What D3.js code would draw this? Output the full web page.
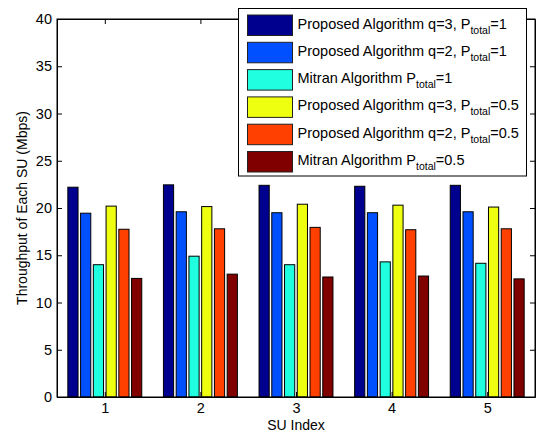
<!DOCTYPE html>
<html>
<head>
<meta charset="utf-8">
<script src="https://cdn.jsdelivr.net/npm/d3@7"></script>
<style>
  body { margin: 0; background: #fff; }
  svg { font-family: "Liberation Sans", Arial, sans-serif; }
</style>
</head>
<body>
<div id="chart"></div>
<script>
// SU index on the x axis
var suIndex = [1, 2, 3, 4, 5];

// series values (Mbps)
var propQ3P1   = [22.2, 22.45, 22.4, 22.3, 22.4];
var propQ2P1   = [19.45, 19.6, 19.5, 19.5, 19.6];
var mitranP1   = [14.0, 14.9, 14.0, 14.3, 14.15];
var propQ3P05  = [20.2, 20.15, 20.4, 20.3, 20.1];
var propQ2P05  = [17.75, 17.8, 17.95, 17.7, 17.8];
var mitranP05  = [12.55, 13.0, 12.7, 12.8, 12.5];

// legend labels: main text, subscript, trailing text
var seriesLabels = [
    ["Proposed Algorithm q=3, P", "total", "=1"],
    ["Proposed Algorithm q=2, P", "total", "=1"],
    ["Mitran Algorithm P", "total", "=1"],
    ["Proposed Algorithm q=3, P", "total", "=0.5"],
    ["Proposed Algorithm q=2, P", "total", "=0.5"],
    ["Mitran Algorithm P", "total", "=0.5"]
];
var seriesColors = ["#00008f", "#0050ff", "#20ffdf", "#efff10", "#ff4000", "#800000"];
var yTicks = [0, 5, 10, 15, 20, 25, 30, 35, 40];

var allSeries = [propQ3P1, propQ2P1, mitranP1, propQ3P05, propQ2P05, mitranP05];

var margin = { left: 57, right: 9, top: 19, bottom: 39 };
var W = 544, H = 436;
var width = W - margin.left - margin.right;
var height = H - margin.top - margin.bottom;

var svg = d3.select("#chart")
    .append("svg")
    .attr("width", W)
    .attr("height", H);

var g = svg.append("g")
    .attr("transform", "translate(" + margin.left + "," + margin.top + ")");

// x: linear like matlab, domain 0.5..5.5
var x = d3.scaleLinear()
    .domain([0.5, 5.5])
    .range([0, width]);

var y = d3.scaleLinear()
    .domain([0, 40])
    .range([height, 0]);

// group width = 0.8 of unit spacing
var groupW = x(1.8) - x(1);
var x1 = d3.scaleBand()
    .domain(d3.range(allSeries.length))
    .range([-groupW / 2, groupW / 2])
    .paddingInner(0.2)
    .paddingOuter(0.1);

var groups = g.selectAll("g.grp")
    .data(suIndex)
    .enter()
    .append("g")
    .attr("class", "grp")
    .attr("transform", function(d) { return "translate(" + x(d) + ",0)"; });

groups.selectAll("rect")
    .data(function(d, i) {
        return allSeries.map(function(s, k) { return { k: k, v: s[i] }; });
    })
    .enter()
    .append("rect")
    .attr("x", function(d) { return x1(d.k); })
    .attr("y", function(d) { return y(d.v); })
    .attr("width", x1.bandwidth())
    .attr("height", function(d) { return height - y(d.v); })
    .attr("fill", function(d) { return seriesColors[d.k]; })
    .attr("stroke", "#000")
    .attr("stroke-width", 1);

// axes, ticks inward, mirrored on top and right
var tickLen = 5;
var xAxisCall = d3.axisBottom(x)
    .tickValues(suIndex)
    .tickFormat(d3.format("d"))
    .tickSizeInner(-tickLen).tickSizeOuter(0).tickPadding(6);
g.append("g")
    .attr("class", "x-axis")
    .attr("transform", "translate(0," + height + ")")
    .call(xAxisCall);

var yAxisCall = d3.axisLeft(y).tickValues(yTicks).tickSizeInner(-tickLen).tickSizeOuter(0).tickPadding(5);
g.append("g")
    .attr("class", "y-axis")
    .call(yAxisCall);

g.append("g")
    .attr("class", "x-top")
    .call(d3.axisTop(x).tickValues(suIndex).tickSizeInner(-tickLen).tickSizeOuter(0).tickFormat(""));

g.append("g")
    .attr("class", "y-right")
    .attr("transform", "translate(" + width + ",0)")
    .call(d3.axisRight(y).tickValues(yTicks).tickSizeInner(-tickLen).tickSizeOuter(0).tickFormat(""));

g.selectAll(".domain").attr("stroke", "#000");
g.selectAll(".tick line").attr("stroke", "#000");
g.selectAll(".tick text")
    .attr("font-size", "14.5px")
    .attr("fill", "#000")
    .attr("font-family", "Liberation Sans, Arial, sans-serif");

// box
g.append("rect")
    .attr("width", width)
    .attr("height", height)
    .attr("fill", "none")
    .attr("stroke", "#000");

// x label
g.append("text")
    .attr("x", width / 2)
    .attr("y", height + 33)
    .attr("font-size", "14px")
    .attr("text-anchor", "middle")
    .text("SU Index");

// y label
g.append("text")
    .attr("x", -(height / 2))
    .attr("y", -30)
    .attr("font-size", "14px")
    .attr("text-anchor", "middle")
    .attr("transform", "rotate(-90)")
    .text("Throughput of Each SU (Mbps)");

// legend
var leg = svg.append("g")
    .attr("transform", "translate(238.5,8.5)");

leg.append("rect")
    .attr("width", 288)
    .attr("height", 167.5)
    .attr("fill", "#fff")
    .attr("stroke", "#000");

var rowH = 27.3;
var rows = leg.selectAll("g.row")
    .data(seriesLabels)
    .enter()
    .append("g")
    .attr("class", "row")
    .attr("transform", function(d, i) { return "translate(0," + (i * rowH) + ")"; });

rows.append("rect")
    .attr("x", 9)
    .attr("y", 6.5)
    .attr("width", 45)
    .attr("height", 20.5)
    .attr("fill", function(d, i) { return seriesColors[i]; })
    .attr("stroke", "#222");

var txt = rows.append("text")
    .attr("x", 59)
    .attr("y", 20)
    .attr("font-size", "14.5px");
txt.append("tspan").text(function(d) { return d[0]; });
txt.append("tspan").attr("font-size", "10.5px").attr("dy", 5).text(function(d) { return d[1]; });
txt.append("tspan").attr("dy", -5).text(function(d) { return d[2]; });
</script>
</body>
</html>
